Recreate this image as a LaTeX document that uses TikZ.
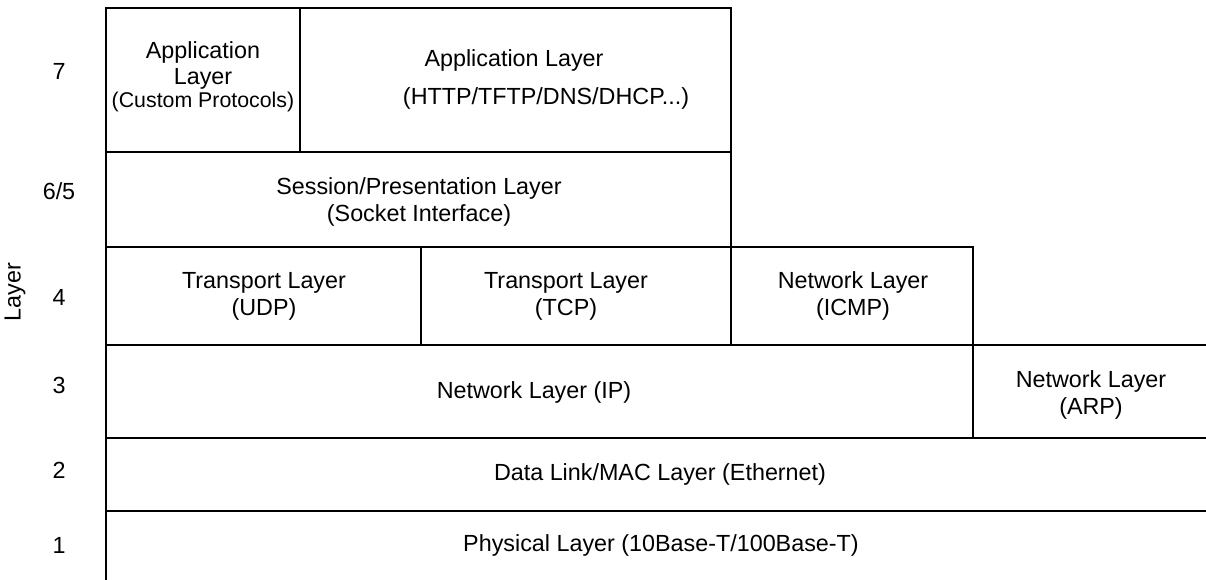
\documentclass[tikz,border=0pt]{standalone}
\usepackage{fontspec}
\setmainfont{Liberation Sans}
\begin{document}
\begin{tikzpicture}[x=0.75pt,y=-0.75pt,
  rule/.style={line width=1.5pt, line cap=rect},
  cell/.style={align=center, font=\fontsize{17.5}{20.25}\selectfont, inner sep=0pt},
  lvl/.style={font=\fontsize{17.5}{20.25}\selectfont, inner sep=0pt}]
\useasboundingbox (0,0) rectangle (1206,579);

% stack outline and cell borders
\draw[rule] (106,579) -- (106,8) -- (731,8) -- (731,345);
\draw[rule] (300,8) -- (300,152);
\draw[rule] (106,152) -- (731,152);
\draw[rule] (106,247) -- (973,247) -- (973,438);
\draw[rule] (421,247) -- (421,345);
\draw[rule] (106,345) -- (1206,345);
\draw[rule] (106,438) -- (1206,438);
\draw[rule] (106,511) -- (1206,511);

% layer numbers
\node[lvl, rotate=90] (axis) at (15,292) {Layer};
\node[lvl] (n7) at (59,71) {7};
\node[lvl] (n65) at (59,191) {6/5};
\node[lvl] (n4) at (59,297) {4};
\node[lvl] (n3) at (59,385) {3};
\node[lvl] (n2) at (59,470) {2};
\node[lvl] (n1) at (59,545) {1};

% protocol cells
\node[cell, font=\fontsize{17.5}{19.5}\selectfont] (app7a) at (203,77)
  {Application\\Layer\\[-2.5pt]{\fontsize{16}{18}\selectfont (Custom Protocols)}};
\node[cell] (app7b) at (514,60) {Application Layer};
\node[cell] (app7bsub) at (546,98) {(HTTP/TFTP/DNS/DHCP...)};
\node[cell] (sess) at (419,202) {Session/Presentation Layer\\(Socket Interface)};
\node[cell] (udp) at (264,296) {Transport Layer\\(UDP)};
\node[cell] (tcp) at (566,296) {Transport Layer\\(TCP)};
\node[cell] (icmp) at (853,296) {Network Layer\\(ICMP)};
\node[cell] (ip) at (534,392) {Network Layer (IP)};
\node[cell] (arp) at (1091,395) {Network Layer\\(ARP)};
\node[cell] (dl) at (660,474) {Data Link/MAC Layer (Ethernet)};
\node[cell] (phy) at (661,545) {Physical Layer (10Base-T/100Base-T)};
\end{tikzpicture}
\end{document}
